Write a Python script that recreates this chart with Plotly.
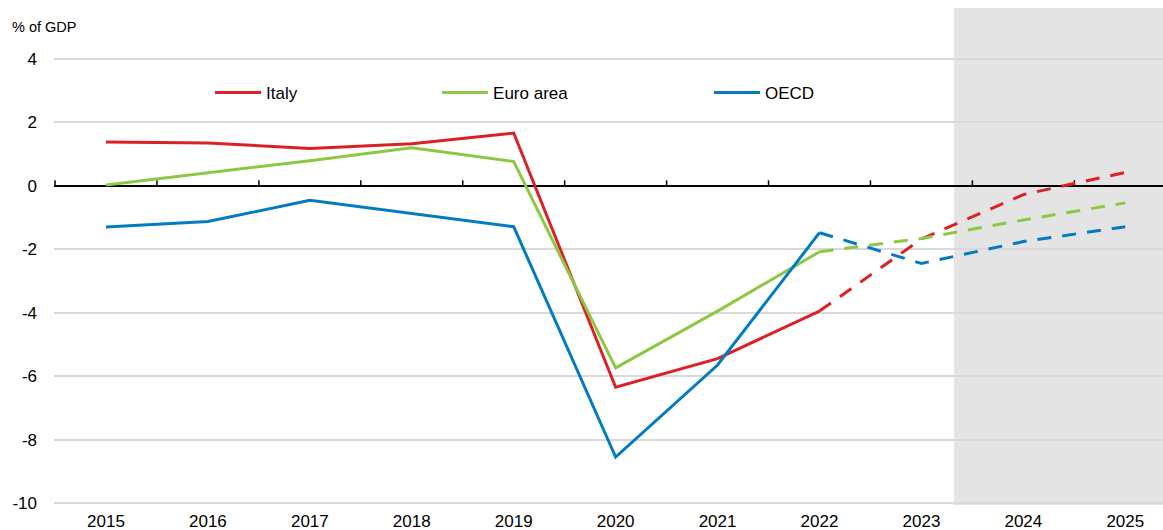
import plotly.graph_objects as go

# ---- data ----
years = [2015, 2016, 2017, 2018, 2019, 2020, 2021, 2022, 2023, 2024, 2025]
italy = [1.38, 1.35, 1.17, 1.32, 1.66, -6.35, -5.45, -3.95, -1.68, -0.28, 0.42]
euro_area = [0.02, 0.40, 0.79, 1.20, 0.76, -5.74, -3.95, -2.08, -1.66, -1.08, -0.54]
oecd = [-1.30, -1.13, -0.46, -0.88, -1.29, -8.55, -5.65, -1.48, -2.45, -1.76, -1.29]
last_actual_year = 2022
projection_shade_start = 2023.32
y_ticks = [-10, -8, -6, -4, -2, 0, 2, 4]
y_ticklabels = ["-10", "-8", "-6", "-4", "-2", "0", "2", "4"]
y_label = "% of GDP"

series = [
    ("Italy", italy, "#DA2128", "legend"),
    ("Euro area", euro_area, "#8CC841", "legend2"),
    ("OECD", oecd, "#037BC1", "legend3"),
]

FONT = "Liberation Sans, Arial, sans-serif"
x_range = [2014.49, 2025.37]
y_range = [-10.06, 5.6]

fig = go.Figure()

# projection shading
fig.add_shape(type="rect", xref="x", yref="y", x0=projection_shade_start, x1=x_range[1],
              y0=y_range[0], y1=y_range[1], fillcolor="#e4e4e4", line_width=0, layer="below")

# category separator ticks on the zero line
tick_x, tick_y = [], []
for yr in years:
    tick_x += [yr - 0.5, yr - 0.5, None]
    tick_y += [0, 0.17, None]
fig.add_trace(go.Scatter(x=tick_x, y=tick_y, mode="lines", line=dict(color="black", width=1.5),
                         hoverinfo="skip", showlegend=False))

split = years.index(last_actual_year)
for name, vals, color, leg in series:
    fig.add_trace(go.Scatter(x=years[:split + 1], y=vals[:split + 1], mode="lines", name=name,
                             line=dict(color=color, width=3), legend=leg))
    fig.add_trace(go.Scatter(x=years[split:], y=vals[split:], mode="lines", name=name,
                             line=dict(color=color, width=3, dash="14px,11px"),
                             showlegend=False))

legend_common = dict(orientation="h", yanchor="middle", y=0.829, xanchor="left",
                     bgcolor="rgba(0,0,0,0)", font=dict(family=FONT, size=17, color="black"),
                     itemwidth=46)

fig.update_layout(
    width=1163, height=530,
    margin=dict(l=54, r=0, t=8, b=25, autoexpand=False),
    plot_bgcolor="white", paper_bgcolor="white",
    font=dict(family=FONT, size=17, color="black"),
    legend=dict(legend_common, x=0.1407),
    legend2=dict(legend_common, x=0.3454),
    legend3=dict(legend_common, x=0.5906),
    xaxis=dict(range=x_range, tickvals=years, ticktext=[str(y) for y in years],
               showgrid=False, showline=False, zeroline=False, ticks="", automargin=False,
               tickfont=dict(family=FONT, size=17, color="black"), ticklabelstandoff=4),
    yaxis=dict(range=y_range, tickvals=y_ticks, ticktext=y_ticklabels, showgrid=True,
               gridcolor="#d9d9d9", gridwidth=1.5, automargin=False,
               zeroline=True, zerolinecolor="black", zerolinewidth=2, showline=False, ticks="",
               tickfont=dict(family=FONT, size=17, color="black"), ticklabelstandoff=16),
    annotations=[dict(text=y_label, xref="paper", yref="paper", x=-0.0397, y=0.962,
                      xanchor="left", yanchor="middle", showarrow=False,
                      font=dict(family=FONT, size=14.5, color="black"))],
    showlegend=True,
)

fig.write_html("out.html", config={"displayModeBar": False},
               post_script="document.body.style.margin='0';document.body.style.padding='0';"
                           "document.documentElement.style.overflow='hidden';")
